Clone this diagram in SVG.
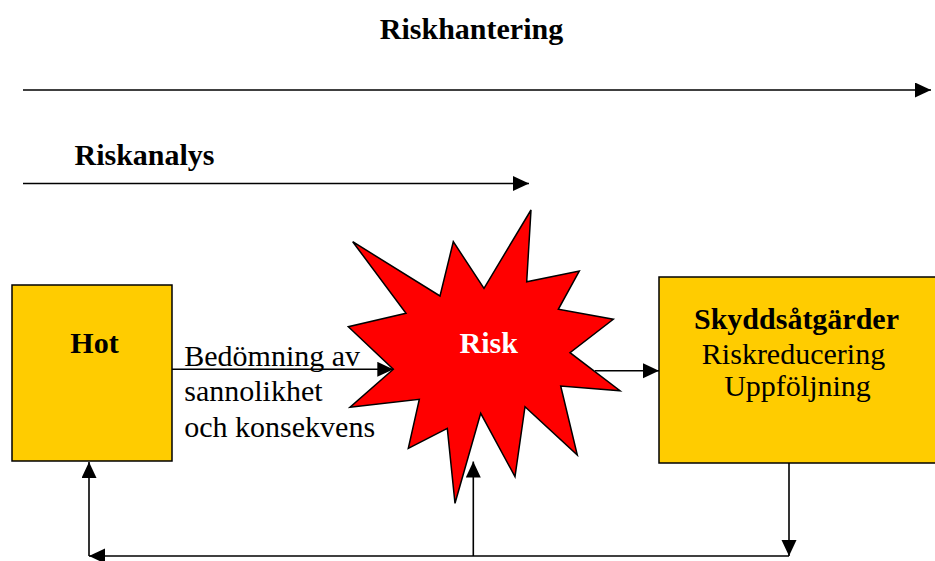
<svg xmlns="http://www.w3.org/2000/svg" width="935" height="561" viewBox="0 0 935 561">
<style>
text{font-family:"Liberation Serif","Times New Roman",serif;font-size:30px;fill:#000}
.b{font-weight:bold}
.box{fill:#ffcc00;stroke:#000;stroke-width:1.5}
.ln{fill:none;stroke:#000;stroke-width:1.6}
</style>
<defs>
<marker id="ah" markerUnits="userSpaceOnUse" markerWidth="16" markerHeight="16" refX="16" refY="7.5" orient="auto">
<path d="M0,0 L16,7.5 L0,15 z" fill="#000"/>
</marker>
</defs>
<g id="title-riskhantering">
<text class="b" x="471.5" y="38.5" text-anchor="middle">Riskhantering</text>
</g>
<g id="title-riskanalys">
<text class="b" x="144.5" y="164.5" text-anchor="middle">Riskanalys</text>
</g>
<g id="hot">
<rect class="box" x="12" y="285" width="160" height="176"/>
<text class="b" x="94.5" y="352.5" text-anchor="middle">Hot</text>
</g>
<g id="risk">
<polygon points="531,210 526.7,281.7 579.3,271 558.3,309.3 613.3,319.3 570,352.7 620,390.7 560.7,386 577.3,455 525,406.7 515,476.7 480.7,413.3 455,503.3 447.3,428.3 408.3,448.3 419.3,399.3 350,407.3 393.3,369.3 348.3,326.7 406,313.3 352.7,241.7 440,296 453.3,241.7 484,288.3" fill="#ff0000" stroke="#000" stroke-width="1.5" stroke-linejoin="miter"/>
<text class="b" x="488.7" y="352.5" text-anchor="middle" style="fill:#fff">Risk</text>
</g>
<g id="skyddsatgarder">
<rect class="box" x="659" y="277" width="280" height="186"/>
<text class="b" x="796.5" y="328.5" text-anchor="middle">Skyddsåtgärder</text>
<text x="793.5" y="364" text-anchor="middle">Riskreducering</text>
<text x="797.5" y="396" text-anchor="middle">Uppföljning</text>
</g>
<g id="label-bedomning">
<text x="184.3" y="366">Bedömning av</text>
<text x="184.3" y="401">sannolikhet</text>
<text x="184.3" y="436.5">och konsekvens</text>
</g>
<g id="connectors">
<line class="ln" x1="23" y1="90" x2="931" y2="90" marker-end="url(#ah)"/>
<line class="ln" x1="23" y1="183.5" x2="529" y2="183.5" marker-end="url(#ah)"/>
<line class="ln" x1="172" y1="369.3" x2="393.3" y2="369.3" marker-end="url(#ah)"/>
<line class="ln" x1="595" y1="370.7" x2="659" y2="370.7" marker-end="url(#ah)"/>
<line class="ln" x1="789" y1="463" x2="789" y2="556" marker-end="url(#ah)"/>
<line class="ln" x1="789" y1="556" x2="89" y2="556" marker-end="url(#ah)"/>
<line class="ln" x1="89" y1="556" x2="89" y2="462" marker-end="url(#ah)"/>
<line class="ln" x1="473.3" y1="556" x2="473.3" y2="461.5" marker-end="url(#ah)"/>
</g>
</svg>
